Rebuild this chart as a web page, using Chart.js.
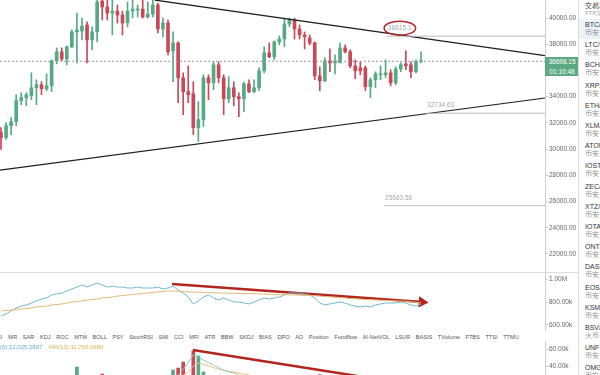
<!DOCTYPE html>
<html>
<head>
<meta charset="utf-8">
<script src="https://cdn.jsdelivr.net/npm/chart.js@4"></script>
<style>
  body { margin: 0; width: 600px; height: 375px; overflow: hidden; background: #fff; position: relative;
         font-family: "Liberation Sans", Arial, sans-serif; }
  canvas { position: absolute; left: 0; }
  .sep { position: absolute; left: 0; width: 578px; height: 1px; background: #dedede; }
  #tabs { position: absolute; left: -7px; top: 331px; height: 12px; display: flex; gap: 5.6px;
          font-size: 5.6px; line-height: 12px; color: #555; white-space: nowrap; }
  #volHead { position: absolute; left: -9px; top: 344px; font-size: 6px; white-space: nowrap; }
  #priceBox { position: absolute; left: 545px; top: 57px; width: 34px; background: #5aa982; color: #fff;
              font-size: 6.5px; line-height: 9.5px; text-align: center; }
  #side { position: absolute; left: 578px; top: 0; width: 22px; height: 375px; overflow: hidden;
          border-left: 1px solid #dcdcdc; background: #fff; }
  .hdr { position: absolute; left: 6px; top: 1px; font-size: 7px; color: #333; white-space: nowrap; }
  .hdr2 { position: absolute; left: 6px; top: 9px; font-size: 6px; color: #999; white-space: nowrap; }
  .row { position: absolute; left: 0; width: 60px; height: 20px; padding-left: 6px; white-space: nowrap; }
  .row.sel { background: #eaf2fa; }
  .sym { font-size: 7px; line-height: 9px; color: #333; padding-top: 1px; }
  .ex { font-size: 6.5px; line-height: 8px; color: #8a8a8a; }
</style>
</head>
<body>
<canvas id="priceChart" width="578" height="272" style="top:0"></canvas>
<div class="sep" style="top:272px"></div>
<canvas id="indChart" width="578" height="59" style="top:272px"></canvas>
<div id="tabs">
  <span>RSI</span><span>WR</span><span>SAR</span><span>KDJ</span><span>ROC</span><span>MTM</span><span>BOLL</span>
  <span>PSY</span><span>StochRSI</span><span>SMI</span><span>CCI</span><span>MFI</span><span>ATR</span><span>BBW</span>
  <span>SKDJ</span><span>BIAS</span><span>DPO</span><span>AO</span><span>Position</span><span>Fundflow</span>
  <span>AI-NetVOL</span><span>LSUR</span><span>BASIS</span><span>TVolume</span><span>FTBS</span><span>TTSI</span><span>TTMU</span>
</div>
<canvas id="volChart" width="578" height="34" style="top:341px"></canvas>
<div id="volHead"><span style="color:#5fb3c4">MA(5):12,025.2807</span>&nbsp;&nbsp;&nbsp;&nbsp;<span style="color:#d6b455">MA(10):11,760.0680</span></div>
<div id="priceBox"><div>36698.15</div><div>01:10:48</div></div>
<div id="side">
  <div class="hdr">交易对</div><div class="hdr2">FTX交易所</div>
</div>

<script>
// candles (price, one per bar)
const opens  = [31260,30880,31790,32100,33690,33920,34070,34680,34910,34600,
                34830,36730,37420,36880,37800,38940,39010,39470,38330,38940,
                41290,40840,40380,40530,40230,39620,40530,40610,40680,40080,
                40300,40990,39160,39620,37490,38100,35440,34380,34220,31640,
                32250,35440,35060,36430,35440,33840,34680,34000,33840,34980,
                34380,34680,35970,37340,37040,38180,38400,39540,39850,39160,
                38710,38480,38100,35590,35210,36730,36580,36600,37720,37420,
                36350,36200,36200,34760,35290,35670,35670,35820,35060,36120,
                36500,36430,35900,36660];
const highs  = [31640,32020,32400,34150,34300,34300,35820,35290,35140,35740,
                36810,37720,37720,37870,39090,40380,40000,39700,39320,41370,
                41370,41370,41370,40990,40530,41220,41370,40990,41370,41220,
                41370,41140,40000,39850,38940,38180,35820,36350,35140,33620,
                35670,35670,36660,36660,35670,35520,35140,34300,35140,35290,
                35290,36200,37800,38100,38250,38630,40000,40000,40000,39470,
                38940,38710,38180,36280,36960,37640,37190,38100,37950,37570,
                36810,36660,36350,35440,35900,36350,36810,36050,36280,36580,
                37490,36660,36810,37420];
const lows   = [29970,30730,31110,31790,33390,33310,33770,33390,34150,34450,
                34380,36500,36730,36430,37720,36580,38330,36580,37570,38180,
                39850,39850,38710,39620,38710,39320,40000,40080,40000,40000,
                40080,38860,38560,37190,35140,33540,32630,33540,31110,30580,
                31720,33770,34530,35060,32630,33540,33310,32480,32860,34300,
                34300,34450,35820,36960,36810,37950,37800,39320,38400,38400,
                37640,37950,35290,34450,35140,35900,35740,36580,37340,36200,
                35360,35670,34450,33920,34680,35290,35440,34830,34910,35900,
                36050,35440,35820,36580];
const closes = [30880,31790,32100,33690,33920,34150,34680,34910,34600,34830,
                36730,37420,36880,37800,38940,39090,39390,38330,38940,41220,
                40840,40380,40530,40230,39620,40530,40680,40680,40080,40300,
                40990,39160,39620,37420,38100,35440,34380,34150,31640,32250,
                35440,35060,36430,35440,33840,34680,34000,33840,34980,34380,
                34680,35970,37340,37040,38180,38400,39540,39920,39160,38710,
                38560,38100,35590,35210,36730,36580,36600,37720,37420,36350,
                35970,35970,34760,35290,35740,35740,35820,35060,36120,36430,
                36350,35900,36660,36698.15];

// drawn lines on the price panel: [{x: bar index, y: price}]
const upperTrend = [{x: 30.4, y: 41370}, {x: 107.5, y: 37130}];
const lowerTrend = [{x: -0.2, y: 28400}, {x: 107.5, y: 33900}];
const levelPrices = [38615.1, 32734.63, 25683.56];
const levelStarts = [76.3, 84.0, 75.7];
const lastPrice = 36698.15;
const priceTicks = [22000, 24000, 26000, 28000, 30000, 32000, 34000, 36000, 38000, 40000];

// indicator panel (thousands)
const indLine = [678,696,722,748,765,774,791,809,826,835,861,870,878,896,913,930,948,930,948,965,
                 948,930,939,930,930,922,922,930,922,922,922,930,913,922,939,904,878,843,783,809,
                 843,861,835,817,835,817,800,800,791,783,800,817,835,826,835,843,861,878,878,878,
                 870,861,835,791,774,783,791,800,791,774,765,757,765,757,774,783,791,791,791,800,
                 791,774,765,783];
const indMa = [722,726,730,735,739,743,748,757,761,765,774,778,783,791,800,804,809,817,822,826,
               835,839,843,852,856,861,865,870,874,878,883,887,891,896,896,893,890,888,886,884,
               882,881,880,879,878,877,876,875,874,873,872,870,869,867,866,864,863,862,861,860,
               858,856,854,852,848,845,842,839,835,830,827,824,822,820,818,816,814,812,810,808,
               806,802,797,792];
const indArrow = [{x: 33.8, y: 956.5}, {x: 83.2, y: 800}];
const indTicks = [600, 800, 1000];

// volume panel (thousands)
const volumes = [22,18,17,24,15,14,20,18,16,19,27,21,17,18,25,38.8,24,26,20,28,
                 30.5,22,21,17,20,19,15,13,16,14,18,25,18,27,35.3,37.6,44.7,28,57.6,51.8,
                 33,24,22,20,27,19,18,21,20,14,13,18,23,17,19,14,22,16,17,15,
                 16,14,26,29.8,22,17,15,18,12,16,18,13,22,19,15,13,14,16,15,12,
                 14,13,12,9];
const volMa5 = [20,20,19,19,19,18,18,17,18,18,20,21,20,20,22,26,27,27,27,28,
                27,25,24,23,22,20,19,17,16,15,15,18,18,20,24,29,36,44,53,51,
                47,44,41,38,35,33,31.8,29,24,20,18,18,18,18,19,18,19,18,17,17,
                17,16,18,20,22,21,20,19,16,15,16,15,16,17,17,16,16,15,15,14,
                14,14,13,12];
const volMa10 = [20,20,20,19,19,19,19,18,18,18,19,19,19,19,20,22,23,24,24,24,
                 25,25,25,25,25,24,22,21,19,18,17,18,18,19,22,25,29,33,40,43.5,
                 42,40,38,36.5,35,34,33,31.8,30.5,29.4,27,25,23,21,20,19,19,18,18,18,
                 17,17,18,19,19,19,19,18,18,17,17,16,16,16,16,16,15,15,15,14,
                 14,14,13,13];
const volArrow = [{x: 37.9, y: 58.8}, {x: 72.9, y: 25.9}];
const volTicks = [40, 60];

const symbols = ['BTC/USDT','LTC/USDT','BCH/USDT','XRP/USDT','ETH/USDT','XLM/USDT','ATOM/USDT','IOST/USDT',
                 'ZEC/USDT','XTZ/USDT','IOTA/USDT','ONT/USDT','DASH/USDT','EOS/USDT','KSM/USDT','BSV/USDT',
                 'UNFI/USDT','OMG/USDT'];
const exchanges = ['币安','币安','币安','币安','币安','币安','币安','币安','币安','币安','币安','币安',
                   '币安','币安','币安','火币','币安','币安'];

const UP = '#55a984';
const DOWN = '#c9485a';
const X_MIN = -0.2, X_MAX = 107.5;
const candleColors = closes.map((c, i) => c >= opens[i] ? UP : DOWN);

// sidebar list
const side = document.getElementById('side');
symbols.forEach((s, k) => {
  const row = document.createElement('div');
  row.className = 'row' + (k === 0 ? ' sel' : '');
  row.style.top = (19 + k * 20.2) + 'px';
  row.innerHTML = '<div class="sym">' + s + '</div><div class="ex">' + exchanges[k] + '</div>';
  side.appendChild(row);
});

Chart.defaults.font.family = '"Liberation Sans", Arial, sans-serif';
Chart.defaults.font.size = 6.5;
Chart.defaults.color = '#666';
Chart.defaults.animation = false;

function xAxis() {
  return { type: 'linear', min: X_MIN, max: X_MAX, offset: false, display: false };
}
function yAxis(min, max, tickList, fmt) {
  return {
    position: 'right', min: min, max: max,
    border: { display: true, color: '#cfcfcf' },
    grid: { drawOnChartArea: false, drawTicks: true, tickLength: 3, color: '#cfcfcf' },
    ticks: { padding: 1, color: '#666', callback: fmt },
    afterBuildTicks: (axis) => { axis.ticks = tickList.map(v => ({ value: v })); },
    afterFit: (axis) => { axis.width = 33; axis.paddingTop = 0; axis.paddingBottom = 0; }
  };
}
const baseOpts = {
  responsive: false,
  animation: false,
  layout: { padding: 0, autoPadding: false },
  plugins: { legend: { display: false }, tooltip: { enabled: false } }
};
function seg(points, color, width, dash) {
  return { type: 'line', data: points, borderColor: color, borderWidth: width, borderDash: dash || [],
           pointRadius: 0, tension: 0 };
}

// price labels + the red ring round the upper level
const levelLabels = {
  id: 'levelLabels',
  afterDatasetsDraw(chart) {
    const { ctx, scales: { x, y } } = chart;
    ctx.save();
    ctx.font = '6.5px "Liberation Sans", Arial';
    ctx.fillStyle = '#a8a8a8';
    ctx.textBaseline = 'middle';
    levelPrices.forEach((p, k) => {
      const px = x.getPixelForValue(levelStarts[k]) + 1;
      const py = y.getPixelForValue(p) - 8;
      const txt = String(p);
      ctx.fillText(txt, px, py);
      if (k === 0) {
        const w = ctx.measureText(txt).width;
        ctx.beginPath();
        ctx.ellipse(px + w / 2, py, w / 2 + 4, 7, 0, 0, Math.PI * 2);
        ctx.strokeStyle = '#b3282b';
        ctx.lineWidth = 1.5;
        ctx.stroke();
      }
    });
    ctx.restore();
  }
};

const idx = opens.map((_, i) => i);

new Chart(document.getElementById('priceChart'), {
  type: 'bar',
  data: {
    datasets: [
      { data: idx.map(i => ({ x: i, y: [lows[i], highs[i]] })), backgroundColor: candleColors,
        barThickness: 1, minBarLength: 1, grouped: false, order: 2 },
      { data: idx.map(i => ({ x: i, y: [opens[i], closes[i]] })), backgroundColor: candleColors,
        barThickness: 3, minBarLength: 1, grouped: false, order: 1 },
      seg([{ x: X_MIN, y: lastPrice }, { x: X_MAX, y: lastPrice }], '#9a9a9a', 1, [2, 2]),
      ...levelPrices.map((p, k) => seg([{ x: levelStarts[k], y: p }, { x: X_MAX, y: p }], '#bdbdbd', 1)),
      seg(upperTrend, '#1e1e1e', 1.2),
      seg(lowerTrend, '#1e1e1e', 1.2)
    ]
  },
  options: Object.assign({}, baseOpts, {
    scales: {
      x: xAxis(),
      y: yAxis(20627, 41373, priceTicks, v => v.toFixed(2))
    }
  }),
  plugins: [levelLabels]
});

new Chart(document.getElementById('indChart'), {
  type: 'line',
  data: {
    datasets: [
      seg(idx.map(i => ({ x: i, y: indMa[i] })), '#e2b878', 1),
      seg(idx.map(i => ({ x: i, y: indLine[i] })), '#72b9ca', 1),
      Object.assign(seg(indArrow, '#b3261e', 2.5), {
        pointRadius: [0, 4], pointStyle: 'triangle', pointRotation: 94,
        pointBackgroundColor: '#b3261e', pointBorderColor: '#b3261e'
      })
    ]
  },
  options: Object.assign({}, baseOpts, {
    scales: {
      x: xAxis(),
      y: yAxis(547.8, 1060.9, indTicks, v => v >= 1000 ? (v / 1000).toFixed(2) + 'M' : v.toFixed(2) + 'k')
    }
  })
});

new Chart(document.getElementById('volChart'), {
  type: 'bar',
  data: {
    datasets: [
      { data: idx.map(i => ({ x: i, y: volumes[i] })), backgroundColor: candleColors,
        barThickness: 3, grouped: false, order: 3 },
      Object.assign(seg(idx.map(i => ({ x: i, y: volMa10[i] })), '#e8c48c', 1), { order: 2 }),
      Object.assign(seg(idx.map(i => ({ x: i, y: volMa5[i] })), '#8fcfa6', 1), { order: 1 }),
      Object.assign(seg(volArrow, '#b3261e', 2.5), { order: 0 })
    ]
  },
  options: Object.assign({}, baseOpts, {
    scales: {
      x: xAxis(),
      y: yAxis(29.42, 69.41, volTicks, v => v.toFixed(2) + 'k')
    }
  })
});
</script>
</body>
</html>
